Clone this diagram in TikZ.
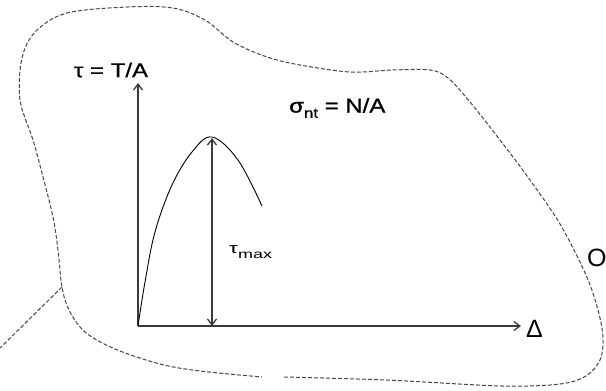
\documentclass[tikz,border=0pt]{standalone}
\usepackage{fontspec}
\usepackage{graphicx}
\setmainfont{Liberation Sans}
\newfontfamily\heavysans[FakeBold=0.8]{Liberation Sans}
\usetikzlibrary{arrows.meta}
\definecolor{axisgray}{HTML}{3A3A3A}
\definecolor{dashgray}{HTML}{454545}
\newcommand{\widetxt}[2][1.2]{\scalebox{#1}[1]{#2}}

\begin{document}
\begin{tikzpicture}[x=1pt,y=-1pt,>={Straight Barb[length=6pt,width=9pt]},
  axis/.style={draw=axisgray,line width=1.3pt},
  outline/.style={draw=dashgray,line width=1pt,dash pattern=on 4pt off 2pt},
  lbl/.style={inner sep=0pt,font=\heavysans\fontsize{20}{22}\selectfont}]
\useasboundingbox (0,0) rectangle (606,391);
\coordinate (origin) at (138,326);
\coordinate (ytop) at (138,83);
\coordinate (xend) at (521,326);
\coordinate (peak) at (212,138);
\coordinate (base) at (212,326);
\coordinate (kink) at (62,287);
\coordinate (tail) at (0,348);
\draw[axis,->] (origin) -- (ytop);
\draw[axis,->] (origin) -- (xend);
\draw[axis,<->] (base) -- (peak);
\draw[line width=0.9pt] plot[smooth,tension=0.6] coordinates
  {(138,326) (145,282) (155,232) (172,185) (192,152) (212,137) (238,160) (262,206)};
\draw[outline] plot[smooth,tension=0.55] coordinates
  {(284,377) (386,380) (502,386) (560,384) (586,376) (600,360) (603,338) (598,310)
   (586,275) (560,224) (530,180) (500,140) (470,102) (448,78) (430,70) (393,70)
   (350,72) (300,65) (267,57) (233,42) (205,20) (173,8) (127,7) (67,13) (36,31)
   (22,58) (20,100) (33,140) (43,177) (53,217) (58,250) (62,287) (69,310) (85,332)
   (115,349) (160,364) (200,371) (262,377)};
\draw[outline] (kink) -- (tail);
\node[lbl] (tauT) at (111,70) {\widetxt{τ = T/A}};
\node[lbl,anchor=west] (sigmaN) at (289,108) {\widetxt{σ\raisebox{-.5ex}{\fontsize{14}{15}\selectfont nt} = N/A}};
\node[lbl,anchor=west,font=\fontsize{15}{16}\selectfont] (taumax) at (229,252) {\widetxt[1.5]{τ\raisebox{-.6ex}{\fontsize{12}{13}\selectfont max}}};
\node[lbl,anchor=west,font=\fontsize{25}{27}\selectfont] (delta) at (526,329) {Δ};
\node[lbl,anchor=west,font=\fontsize{25}{27}\selectfont] (ohm) at (587,258) {O};
\end{tikzpicture}
\end{document}
